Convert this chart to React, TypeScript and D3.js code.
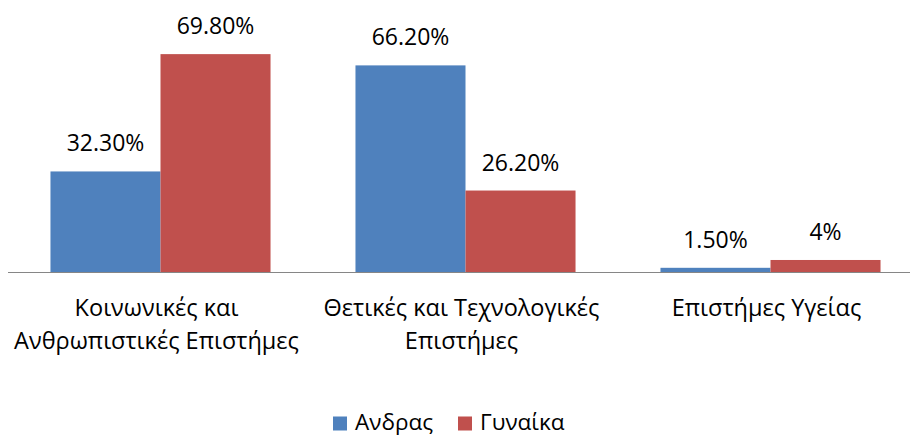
import React, { useEffect, useRef } from 'react';
import * as d3 from 'd3';

const categories = ['Κοινωνικές και Ανθρωπιστικές Επιστήμες', 'Θετικές και Τεχνολογικές Επιστήμες', 'Επιστήμες Υγείας'];
const categoryLines = [
  ['Κοινωνικές και', 'Ανθρωπιστικές Επιστήμες'],
  ['Θετικές και Τεχνολογικές', 'Επιστήμες'],
  ['Επιστήμες Υγείας'],
];
const seriesNames = ['Ανδρας', 'Γυναίκα'];
const andras = [32.3, 66.2, 1.5];
const gynaika = [69.8, 26.2, 4];
const andrasLabels = ['32.30%', '66.20%', '1.50%'];
const gynaikaLabels = ['69.80%', '26.20%', '4%'];
const colors = ['#4F81BD', '#C0504D'];

const W = 910;
const H = 437;
const FONT = '"Open Sans", "Noto Sans", sans-serif';

export default function App() {
  const ref = useRef<SVGSVGElement>(null);

  useEffect(() => {
    const svg = d3.select(ref.current);
    svg.selectAll('*').remove();

    const base = 272.5;
    const x0 = d3.scaleBand().domain(categories).range([8, 923]).padding(0);
    const x1 = d3.scaleBand().domain(seriesNames).range([0, x0.bandwidth()])
      .paddingInner(0).paddingOuter(0.386);
    const y = d3.scaleLinear().domain([0, 70]).range([base, 53.5]);

    const values = [andras, gynaika];
    const labels = [andrasLabels, gynaikaLabels];

    const g = svg.append('g');

    seriesNames.forEach((s, si) => {
      categories.forEach((c, ci) => {
        const v = values[si][ci];
        const bx = x0(c)! + x1(s)!;
        g.append('rect')
          .attr('x', bx)
          .attr('y', y(v))
          .attr('width', x1.bandwidth())
          .attr('height', base - y(v))
          .attr('fill', colors[si]);
        g.append('text')
          .attr('x', bx + x1.bandwidth() / 2)
          .attr('y', y(v) - 20)
          .attr('text-anchor', 'middle')
          .attr('font-family', FONT)
          .attr('font-size', 23)
          .attr('fill', '#000')
          .text(labels[si][ci]);
      });
    });

    // axis line
    g.append('line')
      .attr('x1', 8).attr('x2', W)
      .attr('y1', base).attr('y2', base)
      .attr('stroke', '#868686')
      .attr('stroke-width', 1.2);

    // category labels
    categories.forEach((c, ci) => {
      const t = g.append('text')
        .attr('text-anchor', 'middle')
        .attr('font-family', FONT)
        .attr('font-size', 23.5)
        .attr('fill', '#000');
      categoryLines[ci].forEach((line, li) => {
        t.append('tspan')
          .attr('x', x0(c)! + x0.bandwidth() / 2 - 4)
          .attr('y', 316 + li * 33)
          .text(line);
      });
    });

    // legend
    const legendX = [333, 458];
    seriesNames.forEach((s, si) => {
      g.append('rect')
        .attr('x', legendX[si]).attr('y', 416.5)
        .attr('width', 14).attr('height', 14)
        .attr('fill', colors[si]);
      g.append('text')
        .attr('x', legendX[si] + 22)
        .attr('y', 430)
        .attr('font-family', FONT)
        .attr('font-size', 22.5)
        .attr('fill', '#000')
        .text(s);
    });
  }, []);

  return (
    <svg ref={ref} width={W} height={H}
      style={{ position: 'absolute', left: 0, top: 0, background: '#fff' }} />
  );
}
